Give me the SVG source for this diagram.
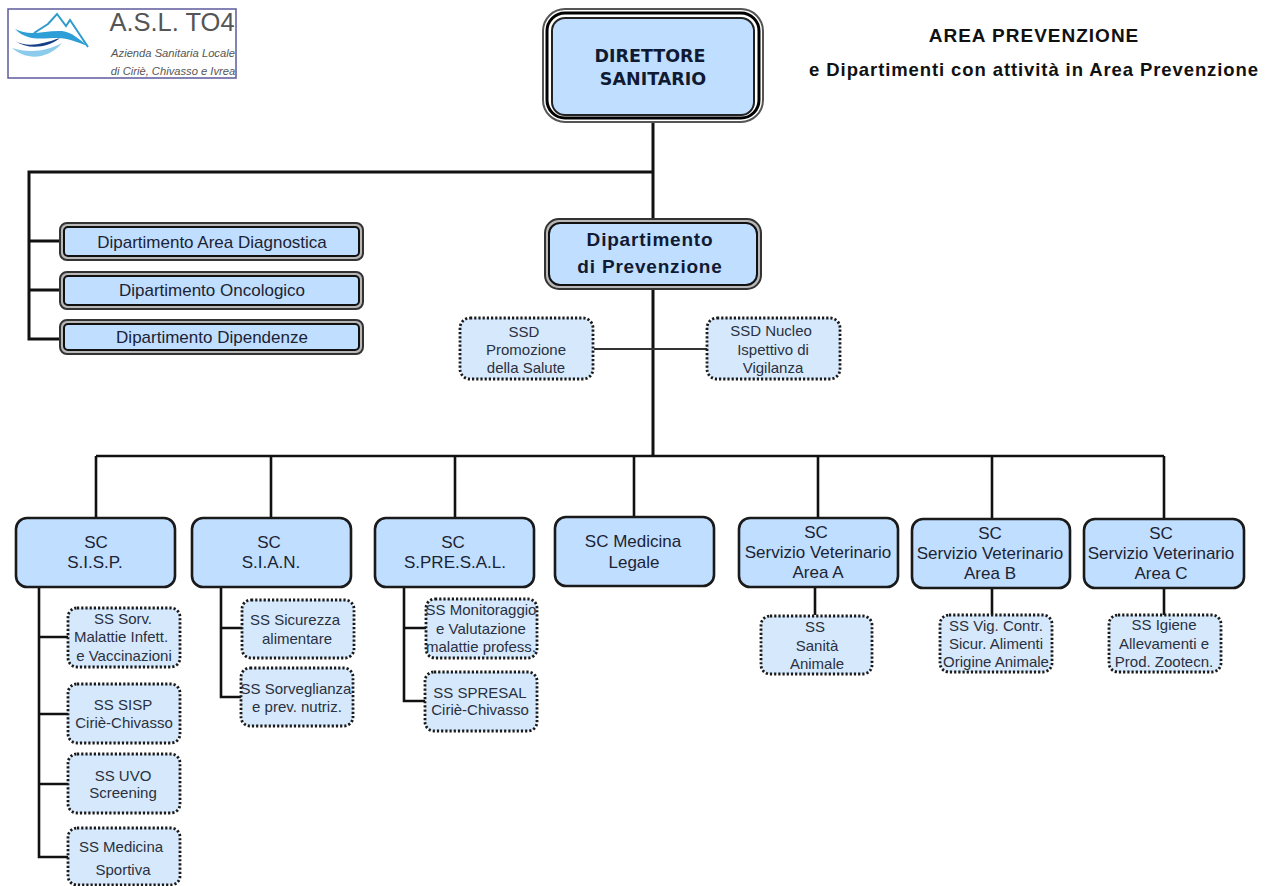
<svg xmlns="http://www.w3.org/2000/svg" width="1271" height="886" viewBox="0 0 1271 886">
<style>
text{font-family:"Liberation Sans",Arial,sans-serif;text-anchor:middle;fill:#1c2333}
.c{fill:none;stroke:#111;stroke-width:2.6}
.sc{fill:#c0deff;stroke:#1a1a1a;stroke-width:2.6}
.ss{fill:#d6e9fc;stroke:#1a1a1a;stroke-width:2.8;stroke-dasharray:2.2 2}
.sct{font-size:17px}
.sst{font-size:15px;fill:#2a3040}
.dt{font-size:17px}
.o{fill:#b8b8b8;stroke:#333;stroke-width:2}
.i{fill:#c0deff;stroke:#111;stroke-width:2}
.dir{font-family:"DejaVu Sans",sans-serif;font-size:17.5px;font-weight:bold;fill:#111a33}
.prev{font-size:19px;font-weight:bold;letter-spacing:.8px;fill:#111a33}
.h{font-weight:bold;fill:#111}
.logo{font-size:11.2px;font-style:italic;fill:#555}
</style>
<rect width="1271" height="886" fill="#fff"/>

<g id="logo">
<rect x="8" y="9" width="228" height="69" fill="#fff" stroke="#5d5a9c" stroke-width="1.5"/>
<path d="M34 33 L48 24 L57 14 L66 26 L70 20 L88 47" fill="none" stroke="#2f9bcb" stroke-width="2"/>
<path d="M15 29 C30 37 45 30 62 31 C72 32 80 40 88 46 C76 42 68 38 58 38 C42 38 28 42 15 29Z" fill="#2d9fd6"/>
<path d="M15 41 C28 48 42 44 60 38 C48 48 28 50 15 41Z" fill="#153f86"/>
<path d="M12 48 C28 53 45 52 62 43 C50 58 28 62 12 48Z" fill="#8ccbec"/>
<text x="172" y="31" style="font-size:25.5px;fill:#555">A.S.L. TO4</text>
<text class="logo" x="173" y="57">Azienda Sanitaria Locale</text>
<text class="logo" x="173" y="75">di Ciriè, Chivasso e Ivrea</text>
</g>

<g id="connectors">
<path class="c" d="M653 122V456M653 172H29V339H60M29 241H60M29 290H60" style="stroke-width:3"/>
<path class="c" d="M594 349H707" style="stroke-width:2;stroke:#333"/>
<path class="c" d="M96 456H1164M96 456V518M271 456V518M455 456V518M634 456V517M818 456V518M992 456V519M1164 456V519"/>
<path class="c" d="M39 587V857H68M39 637H68M39 714H68M39 784H68"/>
<path class="c" d="M221 587V697H241M221 628H242"/>
<path class="c" d="M404 587V701H425M404 628H426"/>
<path class="c" d="M815 587V615M992 587V615M1164 587V615"/>
</g>

<g id="direttore">
<rect x="543" y="9" width="220" height="113" rx="22" fill="#fff" stroke="#555" stroke-width="2"/>
<rect x="547" y="13" width="212" height="105" rx="18" fill="#fff" stroke="#000" stroke-width="3"/>
<rect x="552" y="18" width="202" height="97" rx="13" fill="#c0deff" stroke="#222" stroke-width="2"/>
<text class="dir" x="650" y="62">DIRETTORE</text>
<text class="dir" x="653" y="85">SANITARIO</text>
</g>

<g id="titolo">
<text class="h" x="1034" y="42" style="font-size:19px;letter-spacing:1px">AREA PREVENZIONE</text>
<text class="h" x="1034" y="76" style="font-size:18.5px;letter-spacing:.9px">e Dipartimenti con attività in Area Prevenzione</text>
</g>

<g id="dip-diagnostica">
<rect class="o" x="60" y="223" width="303" height="37" rx="7"/><rect class="i" x="64" y="227" width="295" height="29" rx="4"/>
<text class="dt" x="212" y="248">Dipartimento Area Diagnostica</text>
</g>
<g id="dip-oncologico">
<rect class="o" x="60" y="272" width="303" height="37" rx="7"/><rect class="i" x="64" y="276" width="295" height="29" rx="4"/>
<text class="dt" x="212" y="296">Dipartimento Oncologico</text>
</g>
<g id="dip-dipendenze">
<rect class="o" x="60" y="320" width="303" height="34" rx="7"/><rect class="i" x="64" y="324" width="295" height="26" rx="4"/>
<text class="dt" x="212" y="343">Dipartimento Dipendenze</text>
</g>

<g id="dip-prevenzione">
<rect class="o" x="545" y="219" width="216" height="70" rx="14"/><rect class="i" x="549" y="223" width="208" height="62" rx="11"/>
<text class="prev" x="650" y="246">Dipartimento</text>
<text class="prev" x="650" y="273">di Prevenzione</text>
</g>

<g id="ssd-promozione">
<rect class="ss" x="460" y="318" width="133" height="61" rx="10"/>
<text class="sst" x="524" y="337">SSD</text><text class="sst" x="526" y="355">Promozione</text><text class="sst" x="526" y="373">della Salute</text>
</g>
<g id="ssd-nucleo">
<rect class="ss" x="707" y="318" width="133" height="61" rx="10"/>
<text class="sst" x="771" y="336">SSD Nucleo</text><text class="sst" x="773" y="355">Ispettivo di</text><text class="sst" x="773" y="373">Vigilanza</text>
</g>

<g id="sc-sisp">
<rect class="sc" x="16" y="518" width="159" height="69" rx="11"/>
<text class="sct" x="96" y="548">SC</text><text class="sct" x="95" y="568">S.I.S.P.</text>
</g>
<g id="sc-sian">
<rect class="sc" x="192" y="518" width="159" height="69" rx="11"/>
<text class="sct" x="269" y="548">SC</text><text class="sct" x="271" y="568">S.I.A.N.</text>
</g>
<g id="sc-spresal">
<rect class="sc" x="375" y="518" width="159" height="69" rx="11"/>
<text class="sct" x="453" y="548">SC</text><text class="sct" x="455" y="568">S.PRE.S.A.L.</text>
</g>
<g id="sc-medicina">
<rect class="sc" x="555" y="517" width="159" height="69" rx="11"/>
<text class="sct" x="633" y="547">SC Medicina</text><text class="sct" x="634" y="568">Legale</text>
</g>
<g id="sc-vet-a">
<rect class="sc" x="739" y="518" width="159" height="69" rx="11"/>
<text class="sct" x="816" y="538">SC</text><text class="sct" x="818" y="558">Servizio Veterinario</text><text class="sct" x="818" y="578">Area A</text>
</g>
<g id="sc-vet-b">
<rect class="sc" x="912" y="519" width="158" height="69" rx="11"/>
<text class="sct" x="990" y="539">SC</text><text class="sct" x="990" y="559">Servizio Veterinario</text><text class="sct" x="990" y="579">Area B</text>
</g>
<g id="sc-vet-c">
<rect class="sc" x="1084" y="519" width="160" height="69" rx="11"/>
<text class="sct" x="1161" y="539">SC</text><text class="sct" x="1161" y="559">Servizio Veterinario</text><text class="sct" x="1161" y="579">Area C</text>
</g>

<g id="ss-sorv">
<rect class="ss" x="68" y="608" width="112" height="59" rx="9"/>
<text class="sst" x="123" y="624">SS Sorv.</text><text class="sst" x="121" y="642">Malattie Infett.</text><text class="sst" x="124" y="661">e Vaccinazioni</text>
</g>
<g id="ss-sisp">
<rect class="ss" x="68" y="684" width="112" height="59" rx="9"/>
<text class="sst" x="123" y="710">SS SISP</text><text class="sst" x="124" y="728">Ciriè-Chivasso</text>
</g>
<g id="ss-uvo">
<rect class="ss" x="68" y="754" width="112" height="59" rx="9"/>
<text class="sst" x="123" y="781">SS UVO</text><text class="sst" x="123" y="798">Screening</text>
</g>
<g id="ss-sportiva">
<rect class="ss" x="68" y="828" width="112" height="57" rx="9"/>
<text class="sst" x="121" y="852">SS Medicina</text><text class="sst" x="123" y="875">Sportiva</text>
</g>
<g id="ss-sicurezza">
<rect class="ss" x="242" y="600" width="112" height="58" rx="9"/>
<text class="sst" x="295" y="625">SS Sicurezza</text><text class="sst" x="297" y="644">alimentare</text>
</g>
<g id="ss-sorveglianza">
<rect class="ss" x="241" y="668" width="112" height="58" rx="9"/>
<text class="sst" x="296" y="694">SS Sorveglianza</text><text class="sst" x="297" y="712">e prev. nutriz.</text>
</g>
<g id="ss-monitoraggio">
<rect class="ss" x="426" y="599" width="111" height="59" rx="9"/>
<text class="sst" x="481" y="615">SS Monitoraggio</text><text class="sst" x="481" y="634">e Valutazione</text><text class="sst" x="481" y="652">malattie profess.</text>
</g>
<g id="ss-spresal">
<rect class="ss" x="425" y="672" width="112" height="59" rx="9"/>
<text class="sst" x="480" y="698">SS SPRESAL</text><text class="sst" x="480" y="715">Ciriè-Chivasso</text>
</g>
<g id="ss-sanita">
<rect class="ss" x="761" y="616" width="111" height="58" rx="9"/>
<text class="sst" x="815" y="632">SS</text><text class="sst" x="817" y="651">Sanità</text><text class="sst" x="817" y="669">Animale</text>
</g>
<g id="ss-vig">
<rect class="ss" x="940" y="615" width="112" height="57" rx="9"/>
<text class="sst" x="996" y="631">SS Vig. Contr.</text><text class="sst" x="996" y="649">Sicur. Alimenti</text><text class="sst" x="996" y="667">Origine Animale</text>
</g>
<g id="ss-igiene">
<rect class="ss" x="1109" y="615" width="112" height="57" rx="9"/>
<text class="sst" x="1164" y="630">SS Igiene</text><text class="sst" x="1164" y="649">Allevamenti e</text><text class="sst" x="1164" y="667">Prod. Zootecn.</text>
</g>
</svg>
